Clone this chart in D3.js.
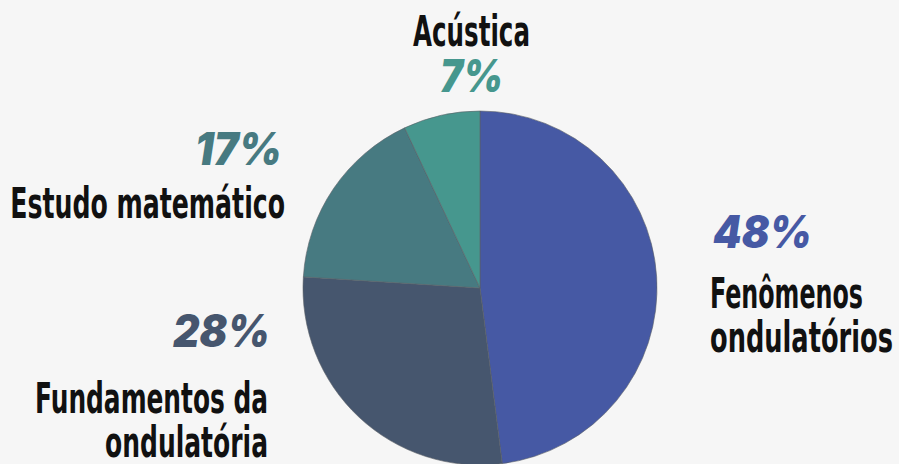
<!DOCTYPE html>
<html><head><meta charset="utf-8">
<script src="https://cdn.jsdelivr.net/npm/d3@7"></script>
<style>html,body{margin:0;padding:0;background:#f6f6f6;}svg{display:block;}</style>
</head><body>
<svg id="c" width="899" height="464"></svg>
<script>
const categories = ["Fenômenos ondulatórios", "Fundamentos da ondulatória", "Estudo matemático", "Acústica"];
const values = [48, 28, 17, 7];
const pctLabels = ["48%", "28%", "17%", "7%"];
const colors = ["#4659a4", "#46566e", "#477a81", "#46978e"];
const nameLines = [["Fenômenos", "ondulatórios"], ["Fundamentos da", "ondulatória"], ["Estudo matemático"], ["Acústica"]];

const svg = d3.select("#c");
const W = 899, H = 464;
svg.append("rect").attr("width", W).attr("height", H).attr("fill", "#f6f6f6");

const cx = 480, cy = 288, R = 177;
const pie = d3.pie().sort(null).value(d => d);
const arc = d3.arc().innerRadius(0).outerRadius(R);
const color = d3.scaleOrdinal().domain(categories).range(colors);

const g = svg.append("g").attr("transform", `translate(${cx},${cy})`);
g.selectAll("path").data(pie(values)).enter().append("path")
  .attr("d", arc)
  .attr("fill", (d, i) => color(categories[i]))
  .attr("stroke", "#5a5f66").attr("stroke-width", 0.6);

const nameFont = "'DejaVu Sans Condensed','Liberation Sans Narrow',sans-serif";
const pctFont = "Inter,Lato,'Open Sans',sans-serif";

const layout = [
  {px: 713, py: 248, anchor: "start", pw: 99, nx: 710, ny: [308, 352], nw: [153, 183]},
  {px: 270, py: 347, anchor: "end", pw: 97, nx: 268, ny: [413, 457], nw: [233, 163]},
  {px: 282, py: 165, anchor: "end", pw: 87, nx: 285, ny: [218], nw: [275]},
  {px: 471.5, py: 92, anchor: "middle", pw: 63, nx: 471.5, ny: [46], nw: [117]}
];

function fitText(x, y, anchor, width, txt, attrs) {
  const grp = svg.append("g").attr("transform", `translate(${x},${y})`);
  const t = grp.append("text").attr("x", 0).attr("y", 0).attr("text-anchor", anchor).text(txt);
  Object.entries(attrs).forEach(([k, v]) => t.attr(k, v));
  const nat = t.node().getComputedTextLength();
  const s = width / nat;
  grp.attr("transform", `translate(${x},${y}) scale(${s},1)`);
  return t;
}

values.forEach((v, i) => {
  const L = layout[i];
  fitText(L.px, L.py, L.anchor, L.pw, pctLabels[i], {
    "font-family": pctFont, "font-weight": 900, "font-style": "italic",
    "font-size": 45, "fill": color(categories[i])
  });
  nameLines[i].forEach((line, j) => {
    fitText(L.nx, L.ny[j], L.anchor, L.nw[j], line, {
      "font-family": nameFont, "font-weight": 700, "font-size": 43, "fill": "#111"
    });
  });
});
</script>
</body></html>
